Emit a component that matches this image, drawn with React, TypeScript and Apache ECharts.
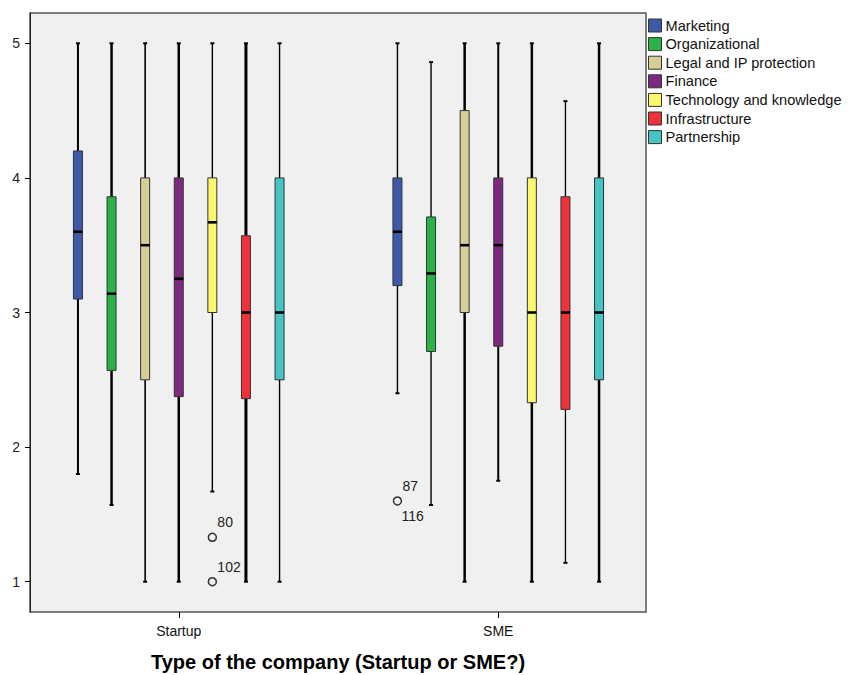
import React, { useEffect, useRef } from "react";
import * as echarts from "echarts";

const groups = ["Startup", "SME"];
const dimensions = [
  "Marketing",
  "Organizational",
  "Legal and IP protection",
  "Finance",
  "Technology and knowledge",
  "Infrastructure",
  "Partnership",
];
const colors = ["#3d5aa9", "#2bb34a", "#d5ce96", "#7b2a80", "#fbf76d", "#ef3139", "#46c3c3"];

// five-number summaries per dimension: [lower whisker, Q1, median, Q3, upper whisker]
const startupStats = [
  [1.8, 3.1, 3.6, 4.2, 5],
  [1.57, 2.57, 3.14, 3.86, 5],
  [1, 2.5, 3.5, 4, 5],
  [1, 2.375, 3.25, 4, 5],
  [1.67, 3, 3.67, 4, 5],
  [1, 2.36, 3, 3.57, 5],
  [1, 2.5, 3, 4, 5],
];
const smeStats = [
  [2.4, 3.2, 3.6, 4, 5],
  [1.57, 2.71, 3.29, 3.71, 4.86],
  [1, 3, 3.5, 4.5, 5],
  [1.75, 2.75, 3.5, 4, 5],
  [1, 2.33, 3, 4, 5],
  [1.14, 2.28, 3, 3.86, 4.57],
  [1, 2.5, 3, 4, 5],
];

// outlying cases
const outlierGroup = [0, 0, 1];
const outlierDimension = [4, 4, 0];
const outlierValue = [1.33, 1, 1.6];
const outlierCases = [["80"], ["102"], ["87", "116"]];

const yTicks = [1, 2, 3, 4, 5];

// drawing styles
const FONT = "'Liberation Sans', Arial, sans-serif";
const BOX_W = 9;
const STEP = 33.6;
const whiskerWidths = [
  [2, 2.5, 1.6, 2.5, 1.4, 3, 1.4],
  [1.4, 1.4, 2.5, 2, 2.5, 1.3, 2.5],
];

function boxRenderer(dim: number) {
  return (params: any, api: any) => {
    const g = api.value(0);
    const lo = api.value(1);
    const q1 = api.value(2);
    const med = api.value(3);
    const q3 = api.value(4);
    const hi = api.value(5);
    const cx = api.coord([g, med])[0] + (dim - 3) * STEP;
    const y = (v: number) => api.coord([g, v])[1];
    const lw = whiskerWidths[g][dim];
    const half = BOX_W / 2;
    return {
      type: "group",
      children: [
        { type: "line", shape: { x1: cx, y1: y(hi), x2: cx, y2: y(q3) }, style: { stroke: "#000", lineWidth: lw } },
        { type: "line", shape: { x1: cx, y1: y(q1), x2: cx, y2: y(lo) }, style: { stroke: "#000", lineWidth: lw } },
        { type: "line", shape: { x1: cx - 2, y1: y(hi), x2: cx + 2, y2: y(hi) }, style: { stroke: "#000", lineWidth: 2 } },
        { type: "line", shape: { x1: cx - 2, y1: y(lo), x2: cx + 2, y2: y(lo) }, style: { stroke: "#000", lineWidth: 2 } },
        {
          type: "rect",
          shape: { x: cx - half, y: y(q3), width: BOX_W, height: y(q1) - y(q3) },
          style: { fill: colors[dim], stroke: "#333", lineWidth: 1 },
        },
        { type: "line", shape: { x1: cx - half, y1: y(med), x2: cx + half, y2: y(med) }, style: { stroke: "#000", lineWidth: 2.6 } },
      ],
    };
  };
}

function outlierRenderer(params: any, api: any) {
  const idx = params.dataIndex;
  const g = api.value(0);
  const v = api.value(1);
  const dim = api.value(2);
  const p = api.coord([g, v]);
  const cx = p[0] + (dim - 3) * STEP;
  const cy = p[1];
  const cases = outlierCases[idx];
  const children: any[] = [
    { type: "circle", shape: { cx, cy, r: 4 }, style: { fill: "none", stroke: "#333", lineWidth: 1.5 } },
  ];
  const textStyle = { fontSize: 14, fontFamily: FONT, fill: "#222", verticalAlign: "middle", align: "left" };
  children.push({ type: "text", x: cx + 5, y: cy - 15, style: { ...textStyle, text: cases[0] } });
  if (cases.length > 1) {
    children.push({ type: "text", x: cx + 4, y: cy + 15, style: { ...textStyle, text: cases[1] } });
  }
  return { type: "group", children };
}

export default function App() {
  const ref = useRef<HTMLDivElement>(null);

  useEffect(() => {
    if (!ref.current) return;
    const chart = echarts.init(ref.current, undefined, { renderer: "svg" });

    const boxSeries = dimensions.map((name, d) => ({
      name,
      type: "custom",
      xAxisIndex: 0,
      yAxisIndex: 0,
      clip: false,
      encode: { x: 0, y: [1, 2, 3, 4, 5] },
      renderItem: boxRenderer(d),
      data: [
        [0, ...startupStats[d]],
        [1, ...smeStats[d]],
      ],
      z: 3,
    }));

    const outlierSeries = {
      name: "Outliers",
      type: "custom",
      xAxisIndex: 0,
      yAxisIndex: 0,
      clip: false,
      encode: { x: 0, y: 1 },
      renderItem: outlierRenderer,
      data: outlierValue.map((v, i) => [outlierGroup[i], v, outlierDimension[i]]),
      z: 4,
    };

    chart.setOption({
      animation: false,
      backgroundColor: "#fff",
      textStyle: { fontFamily: FONT },
      grid: [
        { left: 19, top: 13, width: 639, height: 599, show: false },
        {
          left: 30,
          top: 13,
          width: 616,
          height: 599,
          show: true,
          backgroundColor: "#f0f0f0",
          borderColor: "#555",
          borderWidth: 1.5,
        },
      ],
      xAxis: [
        {
          type: "category",
          gridIndex: 0,
          data: groups,
          boundaryGap: true,
          axisLine: { show: false },
          axisTick: { show: true, alignWithLabel: true, length: 6, lineStyle: { color: "#000" } },
          axisLabel: { fontSize: 14, color: "#111", margin: 12, fontFamily: FONT },
          splitLine: { show: false },
        },
        { type: "value", gridIndex: 1, show: false },
      ],
      yAxis: [
        { type: "value", gridIndex: 0, min: 0.775, max: 5.225, show: false },
        {
          type: "value",
          gridIndex: 1,
          min: 0.775,
          max: 5.225,
          axisLine: { show: true, lineStyle: { color: "#222", width: 1 } },
          axisTick: { show: true, length: 5, customValues: yTicks, lineStyle: { color: "#000" } },
          axisLabel: { customValues: yTicks, fontSize: 14, color: "#222", margin: 10, fontFamily: FONT },
          splitLine: { show: false },
        },
      ],
      legend: {
        orient: "vertical",
        left: 648,
        top: 18,
        padding: 0,
        itemWidth: 13,
        itemHeight: 13,
        itemGap: 3.6,
        icon: "rect",
        selectedMode: false,
        textStyle: { fontSize: 14.6, color: "#111", fontFamily: FONT, padding: [0, 0, 0, -1] },
        data: dimensions.map((n, i) => ({
          name: n,
          itemStyle: { color: colors[i], borderColor: "#333", borderWidth: 1 },
        })),
      },
      graphic: [
        {
          type: "text",
          x: 338,
          y: 662,
          style: {
            text: "Type of the company (Startup or SME?)",
            fontSize: 20,
            fontWeight: "bold",
            fontFamily: FONT,
            fill: "#000",
            align: "center",
            verticalAlign: "middle",
          },
        },
      ],
      series: [...boxSeries, outlierSeries],
    });

    return () => chart.dispose();
  }, []);

  return (
    <div
      ref={ref}
      style={{ position: "absolute", left: 0, top: 0, width: 850, height: 675 }}
    />
  );
}
